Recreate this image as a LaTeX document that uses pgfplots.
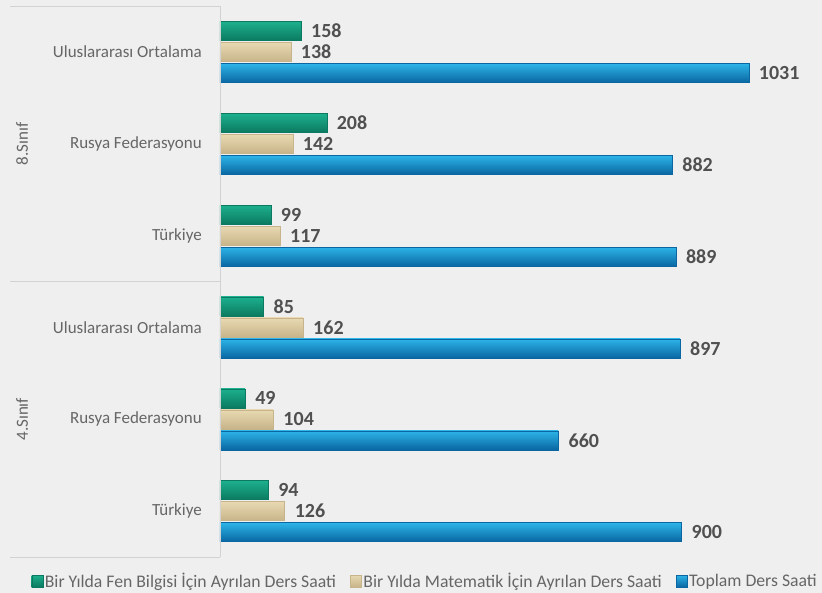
\documentclass[border=0pt]{standalone}
\usepackage{fontspec}
\setmainfont{Carlito}
\usepackage{pgfplots}
\pgfplotsset{compat=1.18}
\usetikzlibrary{backgrounds}
\definecolor{bg}{HTML}{EFEFEF}
\definecolor{labelgray}{HTML}{666666}
\definecolor{numgray}{HTML}{505050}
\definecolor{sepgray}{HTML}{D2D2D2}
\definecolor{gTop}{HTML}{1DB08E}
\definecolor{gMid}{HTML}{14A08C}
\definecolor{gBot}{HTML}{0B7A60}
\definecolor{bTop}{HTML}{2DB4E8}
\definecolor{bMid}{HTML}{149FDA}
\definecolor{bBot}{HTML}{0A67A2}
\definecolor{eTop}{HTML}{E8D9B2}
\definecolor{eMid}{HTML}{FFFFFA}
\definecolor{eBot}{HTML}{C8B48A}
\pgfplotsset{
  gstyle/.style={draw=gBot, line width=0.3pt, top color=gTop, middle color=gMid, bottom color=gBot},
  estyle/.style={draw=eBot, line width=0.3pt, top color=eTop, middle color=eMid, bottom color=eBot},
  bstyle/.style={draw=bBot, line width=0.3pt, top color=bTop, middle color=bMid, bottom color=bBot},
}
\newcommand{\gbar}[2]{\addplot[gstyle, bar shift=21pt, forget plot] coordinates {(#1,#2)};}
\newcommand{\ebar}[2]{\addplot[estyle, bar shift=0pt, forget plot] coordinates {(#1,#2)};}
\newcommand{\bbar}[2]{\addplot[bstyle, bar shift=-21pt, forget plot] coordinates {(#1,#2)};}
\begin{document}
\begin{tikzpicture}
\begin{axis}[
  name=ax,
  scale only axis, width=600pt, height=551pt,
  xbar=2pt, bar width=19pt,
  xmin=0, xmax=1170,
  ymin=-0.5, ymax=5.5, y dir=reverse,
  ytick={0,1,2,3,4,5},
  yticklabels={Uluslararası Ortalama, Rusya Federasyonu, Türkiye, Uluslararası Ortalama, Rusya Federasyonu, Türkiye},
  yticklabel style={font=\fontsize{17}{19}\selectfont, text=labelgray, anchor=east, inner sep=0pt, xshift=-18pt},
  xtick=\empty,
  major tick length=0pt,
  axis line style={draw=none},
  clip=false,
  nodes near coords={\fontsize{20}{22}\selectfont\bfseries\pgfmathprintnumber[1000 sep={}]{\pgfplotspointmeta}},
  /pgf/number format/assume math mode=true,
  every node near coord/.append style={text=numgray, anchor=west, inner sep=0pt, xshift=10pt},
  legend style={draw=none, fill=none, font=\fontsize{17.7}{19}\selectfont, text=labelgray,
    at={(0.342,-0.0436)}, anchor=center, legend columns=3,
    /tikz/every even column/.append style={column sep=12pt}},
  legend image code/.code={\path[#1] (0pt,-6pt) rectangle (11pt,6pt);},
]
% Green: Bir Yılda Fen Bilgisi İçin Ayrılan Ders Saati
\gbar{158}{0} \gbar{208}{1} \gbar{99}{2} \gbar{85}{3} \gbar{49}{4} \gbar{94}{5}
% Beige: Bir Yılda Matematik İçin Ayrılan Ders Saati
\ebar{138}{0} \ebar{142}{1} \ebar{117}{2} \ebar{162}{3} \ebar{104}{4} \ebar{126}{5}
% Blue: Toplam Ders Saati
\bbar{1031}{0} \bbar{882}{1} \bbar{889}{2} \bbar{897}{3} \bbar{660}{4} \bbar{900}{5}
\addlegendimage{gstyle}
\addlegendimage{estyle}
\addlegendimage{bstyle}
\legend{Bir Yılda Fen Bilgisi İçin Ayrılan Ders Saati, Bir Yılda Matematik İçin Ayrılan Ders Saati, Toplam Ders Saati}
\draw[sepgray, line width=0.8pt] (rel axis cs:0,0) -- (rel axis cs:0,1);
\draw[sepgray, line width=0.8pt] ([xshift=-210pt]axis cs:0,-0.5) -- (axis cs:0,-0.5);
\draw[sepgray, line width=0.8pt] ([xshift=-210pt]axis cs:0,2.5) -- (axis cs:0,2.5);
\draw[sepgray, line width=0.8pt] ([xshift=-210pt]axis cs:0,5.5) -- (axis cs:0,5.5);
\node[rotate=90, text=labelgray, font=\fontsize{17}{19}\selectfont] at ([xshift=-198pt]axis cs:0,1) {8.Sınıf};
\node[rotate=90, text=labelgray, font=\fontsize{17}{19}\selectfont] at ([xshift=-198pt]axis cs:0,4) {4.Sınıf};
\end{axis}
\pgfresetboundingbox
\begin{scope}[on background layer]
\fill[bg] ([shift={(-220pt,-36pt)}]ax.south west) rectangle ++(822pt,593pt);
\end{scope}
\path[use as bounding box] ([shift={(-220pt,-36pt)}]ax.south west) rectangle ++(822pt,593pt);
\end{tikzpicture}
\end{document}
